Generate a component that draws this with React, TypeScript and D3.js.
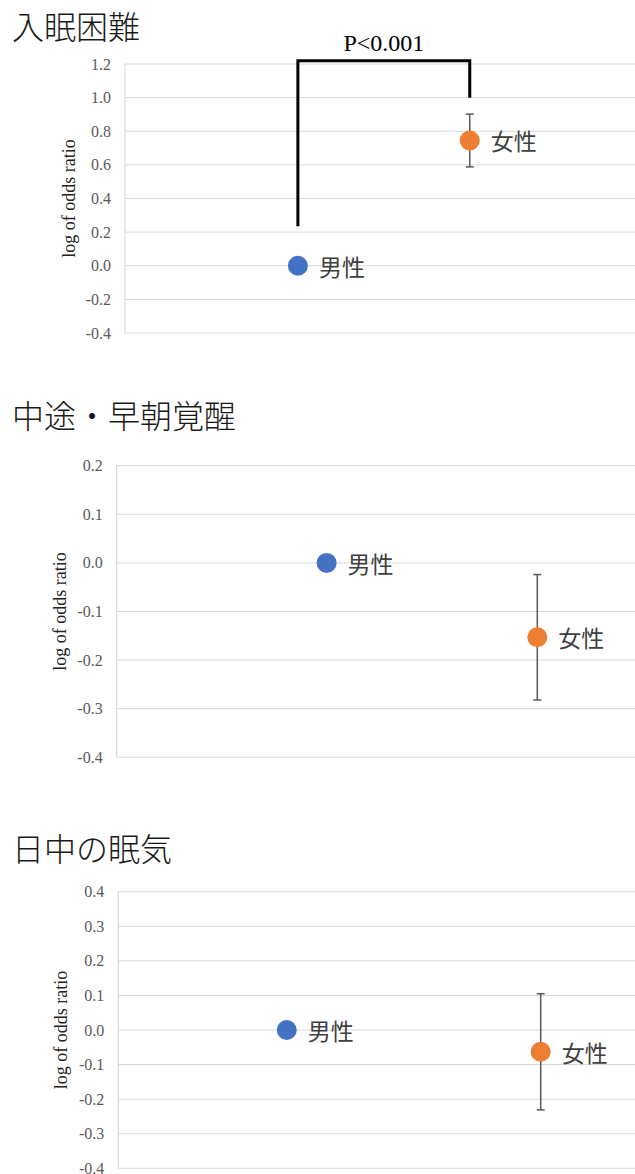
import React from "react";
import * as d3 from "d3";

const categories = ["男性", "女性"];
const titles = ["入眠困難", "中途・早朝覚醒", "日中の眠気"];
const yAxisTitle = "log of odds ratio";

// per-panel values (log odds ratio) for 男性, 女性
const values1 = [0.0, 0.745];
const values2 = [0.0, -0.153];
const values3 = [0.0, -0.063];
// error bar half-widths (男性 has none)
const errors1 = [0, 0.157];
const errors2 = [0, 0.129];
const errors3 = [0, 0.168];
// horizontal positions of the points on a 0..1 axis
const xPos1 = [0.339, 0.676];
const xPos2 = [0.405, 0.8115];
const xPos3 = [0.326, 0.8175];
// y-axis ranges and tick steps
const yDomain1 = [-0.4, 1.2];
const yDomain2 = [-0.4, 0.2];
const yDomain3 = [-0.4, 0.4];
const yStep1 = 0.2;
const yStep2 = 0.1;
const yStep3 = 0.1;
// significance bracket on panel 1: [left bottom, top, right bottom]
const bracket1 = [0.235, 1.22, 1.0];
const pLabel = "P<0.001";

const colors = ["#4472C4", "#ED7D31"];

type PanelProps = {
  title: string;
  titleY: number;
  top: number;
  bottom: number;
  left: number;
  yTitleX: number;
  domain: number[];
  step: number;
  values: number[];
  errors: number[];
  xs: number[];
  bracket?: number[];
};

const RIGHT = 635;

const fmt = (t: number) => {
  const v = Math.abs(t) < 1e-9 ? 0 : t;
  return (v < 0 ? "-" : "") + Math.abs(v).toFixed(1);
};

function Panel(p: PanelProps) {
  const y = d3.scaleLinear().domain(p.domain).range([p.bottom, p.top]);
  const x = d3.scaleLinear().domain([0, 1]).range([p.left, RIGHT]);
  const ticks = d3.range(p.domain[0], p.domain[1] + p.step / 2, p.step);
  const serif = "'Liberation Serif', 'Times New Roman', serif";
  const cjk = "'Noto Sans CJK JP', sans-serif";
  return (
    <g>
      <text x={12} y={p.titleY} fontFamily={cjk} fontSize={32} fontWeight={300} fill="#1a1a1a">
        {p.title}
      </text>
      {ticks.map((t, i) => (
        <g key={i}>
          <line x1={p.left} x2={RIGHT} y1={y(t)} y2={y(t)} stroke="#d9d9d9" strokeWidth={1} />
          <text
            x={p.left - 14}
            y={y(t)}
            textAnchor="end"
            dominantBaseline="central"
            fontFamily={serif}
            fontSize={16}
            fill="#595959"
          >
            {fmt(t)}
          </text>
        </g>
      ))}
      <line x1={p.left} x2={p.left} y1={p.top} y2={p.bottom} stroke="#d0d0d0" strokeWidth={1} />
      <text
        transform={`translate(${p.yTitleX},${(p.top + p.bottom) / 2}) rotate(-90)`}
        textAnchor="middle"
        fontFamily={serif}
        fontSize={18}
        fill="#222"
      >
        {yAxisTitle}
      </text>
      {p.bracket && (
        <g>
          <path
            d={`M${x(p.xs[0])},${y(p.bracket[0])}V${y(p.bracket[1])}H${x(p.xs[1])}V${y(p.bracket[2])}`}
            fill="none"
            stroke="#000"
            strokeWidth={3}
          />
          <text
            x={(x(p.xs[0]) + x(p.xs[1])) / 2}
            y={y(p.bracket[1]) - 10}
            textAnchor="middle"
            fontFamily={serif}
            fontSize={24}
            fill="#000"
          >
            {pLabel}
          </text>
        </g>
      )}
      {categories.map((c, i) => {
        const cx = x(p.xs[i]);
        const cy = y(p.values[i]);
        const e = p.errors[i];
        return (
          <g key={c}>
            {e > 0 && (
              <g stroke="#595959" strokeWidth={1.5}>
                <line x1={cx} x2={cx} y1={y(p.values[i] + e)} y2={y(p.values[i] - e)} />
                <line x1={cx - 4} x2={cx + 4} y1={y(p.values[i] + e)} y2={y(p.values[i] + e)} />
                <line x1={cx - 4} x2={cx + 4} y1={y(p.values[i] - e)} y2={y(p.values[i] - e)} />
              </g>
            )}
            <circle cx={cx} cy={cy} r={10} fill={colors[i]} />
            <text
              x={cx + 21}
              y={cy}
              dominantBaseline="central"
              fontFamily={cjk}
              fontSize={23}
              fill="#404040"
            >
              {c}
            </text>
          </g>
        );
      })}
    </g>
  );
}

export default function App() {
  return (
    <svg
      width={635}
      height={1174}
      style={{ position: "absolute", left: 0, top: 0, background: "#fff" }}
    >
      <rect width={635} height={1174} fill="#fff" />
      <Panel
        title={titles[0]}
        titleY={39}
        top={64}
        bottom={333}
        left={125}
        yTitleX={75}
        domain={yDomain1}
        step={yStep1}
        values={values1}
        errors={errors1}
        xs={xPos1}
        bracket={bracket1}
      />
      <Panel
        title={titles[1]}
        titleY={428}
        top={465.7}
        bottom={757.3}
        left={116.7}
        yTitleX={66}
        domain={yDomain2}
        step={yStep2}
        values={values2}
        errors={errors2}
        xs={xPos2}
      />
      <Panel
        title={titles[2]}
        titleY={861}
        top={891.7}
        bottom={1168.3}
        left={118.3}
        yTitleX={67}
        domain={yDomain3}
        step={yStep3}
        values={values3}
        errors={errors3}
        xs={xPos3}
      />
    </svg>
  );
}
